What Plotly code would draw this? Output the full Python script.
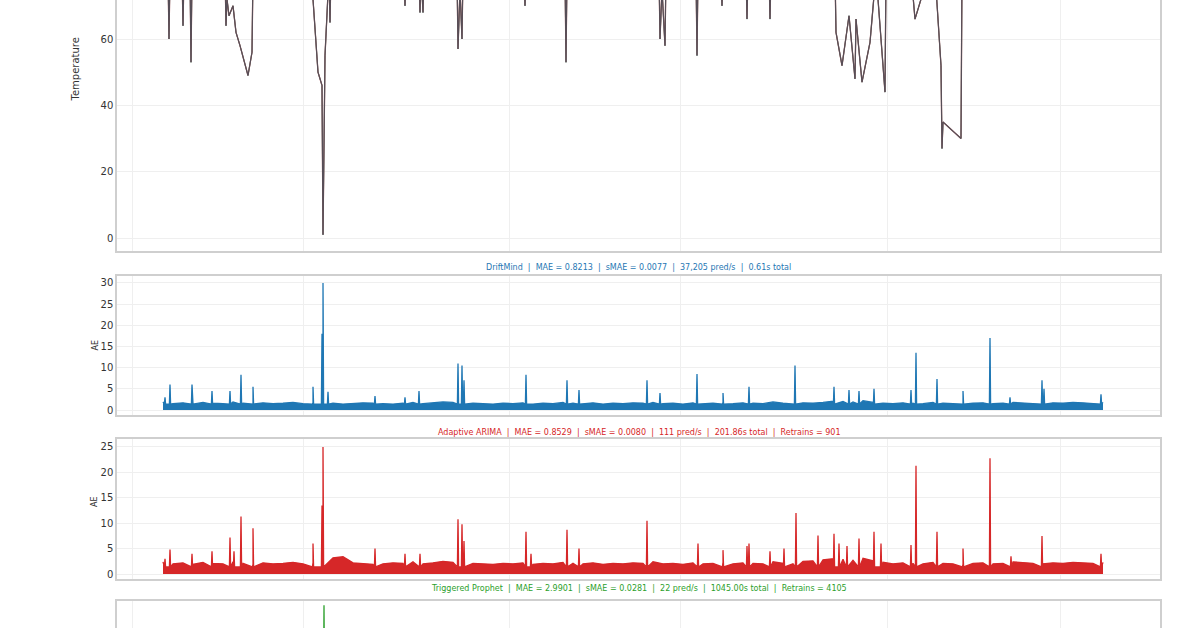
import plotly.graph_objects as go

# ---------------- data ----------------
grid_ticks = [-31, 140, 346, 517, 724, 897]

temp_t = [0, 5, 6, 7, 19, 20, 21, 27, 28, 29, 62, 63, 64, 66, 70, 73, 77, 85, 89, 90,
          149, 150, 155, 159, 160, 162, 166, 167, 168, 241, 242, 243, 256, 257, 258, 260, 261,
          294, 295, 297, 299, 300, 361, 362, 363, 402, 403, 404, 496, 497, 499, 502, 503,
          533, 534, 535, 558, 559, 560, 583, 584, 585, 606, 607, 608, 672, 673, 679, 686, 692,
          693, 699, 707, 713, 715, 722, 723, 748, 752, 758, 759, 772, 778, 779, 780, 798, 799,
          800, 807, 815, 821, 827, 828, 949]
temp_v = [80, 80, 60, 80, 80, 64, 80, 80, 53, 80, 80, 64, 72, 67, 70, 62, 58, 49, 56, 80,
          80, 72, 50, 46, 1, 55, 80, 65, 80, 80, 70, 80, 80, 68, 80, 68, 80,
          80, 57, 75, 60, 80, 80, 70, 80, 80, 53, 80, 80, 60, 75, 58, 80,
          80, 55, 80, 80, 70, 80, 80, 66, 80, 80, 66, 80, 80, 62, 52, 67, 48,
          66, 47, 59, 80, 72, 44, 80, 80, 66, 72, 80, 80, 52, 27, 35, 30, 80,
          80, 75, 80, 80, 80, 80, 80, 80, 80]

env_t = list(range(0, 950, 10))
dm_env = [1.9, 1.5, 1.7, 1.4, 1.8, 1.6, 1.5, 1.9, 1.6, 1.4, 1.7, 1.5, 1.6, 1.8, 1.5, 1.7,
          1.9, 1.6, 1.4, 1.5, 1.7, 1.6, 1.5, 1.4, 1.6, 1.8, 1.5, 1.7, 1.9, 1.8, 2.0, 1.6,
          1.5, 1.4, 1.6, 1.5, 1.7, 1.4, 1.6, 1.5, 1.8, 1.6, 1.5, 1.7, 1.4, 1.6, 1.5, 1.7,
          1.6, 1.8, 1.5, 1.6, 1.4, 1.7, 1.5, 1.6, 1.8, 1.5, 1.7, 1.6, 1.5, 1.9, 1.6, 1.5,
          1.7, 1.6, 1.8, 2.1, 2.0, 1.9, 2.2, 1.8, 1.6, 1.5, 1.7, 1.6, 1.5, 1.8, 1.6, 1.5,
          1.4, 1.6, 1.7, 1.5, 1.6, 1.8, 1.7, 1.6, 1.5, 1.7, 1.6, 1.8, 1.7, 1.6, 1.8]
ar_env = [2.4, 2.0, 2.2, 1.9, 2.3, 2.1, 2.0, 2.4, 2.1, 1.9, 2.2, 2.0, 2.1, 2.3, 2.0, 2.2,
          3.5, 3.2, 3.4, 2.2, 2.0, 1.9, 2.0, 2.2, 2.1, 2.4, 2.0, 2.2, 2.5, 2.3, 2.6, 2.1,
          2.0, 1.9, 2.1, 2.0, 2.2, 1.9, 2.1, 2.0, 2.3, 2.1, 2.0, 2.2, 1.9, 2.1, 2.0, 2.2,
          2.1, 2.4, 2.0, 2.1, 1.9, 2.2, 2.0, 2.1, 2.3, 2.0, 2.2, 2.1, 2.0, 2.4, 2.1, 2.0,
          2.5, 2.6, 2.8, 3.0, 2.9, 2.7, 3.1, 2.6, 2.3, 2.0, 2.2, 2.1, 2.0, 2.3, 2.1, 2.0,
          1.9, 2.1, 2.2, 2.0, 2.1, 2.4, 2.2, 2.1, 2.0, 2.2, 2.1, 2.3, 2.2, 2.1, 2.3]

dm_spike_t = [2, 7, 29, 49, 67, 78, 90, 150, 159, 160, 165, 212, 242, 256, 295, 299, 301,
              363, 404, 416, 484, 497, 534, 560, 586, 632, 671, 686, 696, 711, 748, 753,
              774, 800, 827, 847, 879, 881, 938]
dm_spike_v = [3, 6, 6, 4.5, 4.5, 8.3, 5.5, 5.5, 18, 30, 4.3, 3.3, 3, 4.5, 11, 10.5, 7,
              8.3, 7, 4.7, 7, 4, 8.5, 4, 5.5, 10.5, 5.5, 4.7, 4.5, 5, 4.7, 13.5,
              7.3, 4.5, 17, 3, 7, 5, 3.7]

ar_spike_t = [2, 7, 29, 49, 67, 71, 78, 90, 150, 159, 160, 212, 242, 257, 295, 299, 301,
              363, 368, 404, 416, 484, 535, 560, 584, 586, 607, 621, 633, 655, 671, 676,
              684, 696, 711, 718, 748, 753, 774, 800, 827, 848, 879, 938]
ar_spike_v = [3, 4.8, 4, 4.5, 7.2, 4.5, 11.3, 9, 6, 13.5, 25, 5, 4, 4, 10.8, 9.8, 6.5,
              8.3, 4, 8.7, 5, 10.5, 6, 4.7, 5.5, 6, 4.5, 5, 12, 7.6, 7.9, 6, 5.5, 7,
              8.3, 6, 5.7, 21.3, 8.3, 5, 22.8, 3.5, 7.5, 4]

pr_spike_t = [161]
pr_spike_v = [38]

titles = [
    "DriftMind  |  MAE = 0.8213  |  sMAE = 0.0077  |  37,205 pred/s  |  0.61s total",
    "Adaptive ARIMA  |  MAE = 0.8529  |  sMAE = 0.0080  |  111 pred/s  |  201.86s total  |  Retrains = 901",
    "Triggered Prophet  |  MAE = 2.9901  |  sMAE = 0.0281  |  22 pred/s  |  1045.00s total  |  Retrains = 4105",
]
colors = ["#1f77b4", "#d62728", "#2ca02c"]


def merge(env_x, env_y, sx, sy):
    pts = list(zip(env_x, env_y))
    for t, v in zip(sx, sy):
        pts += [(t - 0.6, 1.4), (t, v), (t + 0.6, 1.4)]
    pts.sort()
    return [p[0] for p in pts], [p[1] for p in pts]


# ---------------- figure ----------------
H = 700
fig = go.Figure()


def py(px):
    return 1 - px / H


def dom(top, bot):
    return [py(bot), min(1.0, py(top))]


def pxx(px):
    return px / 1200


xd = [pxx(117), pxx(1160)]
panels = [dom(0, 251), dom(276, 415), dom(439, 579), dom(601, 690)]
yr = [[-3.9, 60 + 39 / 3.317], [-1.18, 31.65], [-0.98, 26.57], [-1, 40]]
ytick = [[0, 20, 40, 60], [0, 5, 10, 15, 20, 25, 30], [0, 5, 10, 15, 20, 25], [0, 10, 20]]

for c, w in [("#2ca02c", 1.0), ("#1f77b4", 1.0), ("#d62728", 1.3)]:
    fig.add_trace(go.Scatter(x=temp_t, y=temp_v, mode="lines", line=dict(color=c, width=w),
                             opacity=0.6, xaxis="x", yaxis="y", showlegend=False))
fig.add_trace(go.Scatter(x=temp_t, y=temp_v, mode="lines", line=dict(color="#4a4e58", width=1.2),
                         opacity=0.85, xaxis="x", yaxis="y", showlegend=False))

dx, dy = merge(env_t, dm_env, dm_spike_t, dm_spike_v)
fig.add_trace(go.Scatter(x=dx, y=dy, mode="lines", fill="tozeroy", fillcolor=colors[0],
                         line=dict(color=colors[0], width=1.3), xaxis="x2", yaxis="y2", showlegend=False))
ax, ay = merge(env_t, ar_env, ar_spike_t, ar_spike_v)
fig.add_trace(go.Scatter(x=ax, y=ay, mode="lines", fill="tozeroy", fillcolor=colors[1],
                         line=dict(color=colors[1], width=1.3), xaxis="x3", yaxis="y3", showlegend=False))
fig.add_trace(go.Scatter(x=[t - 0.5 for t in pr_spike_t] + pr_spike_t + [t + 0.5 for t in pr_spike_t],
                         y=[0] + pr_spike_v + [0], mode="lines",
                         line=dict(color=colors[2], width=1.3), xaxis="x4", yaxis="y4", showlegend=False))

lay = dict(width=1200, height=H, margin=dict(l=0, r=0, t=0, b=0),
           paper_bgcolor="white", plot_bgcolor="white",
           font=dict(family="DejaVu Sans", size=10, color="#333"))
for i in range(4):
    s = "" if i == 0 else str(i + 1)
    lay["xaxis" + s] = dict(domain=xd, range=[-46, 997], tickvals=grid_ticks, showticklabels=False,
                            showgrid=True, gridcolor="#efefef", gridwidth=1, zeroline=False,
                            showline=True, linecolor="#cfcfcf", linewidth=1.5,
                            mirror=(i != 0), ticks="", anchor="y" + s)
    lay["yaxis" + s] = dict(domain=panels[i], range=yr[i], tickvals=ytick[i],
                            showticklabels=(i != 3),
                            showgrid=True, gridcolor="#efefef", zeroline=False,
                            showline=True, linecolor="#cfcfcf", linewidth=1.5, mirror=True,
                            ticks="", tickfont=dict(size=10, color="#333"), anchor="x" + s)
fig.update_layout(**lay)

ann = [dict(text="Temperature", x=pxx(68), y=py(36), xref="paper", yref="paper",
            textangle=-90, showarrow=False, font=dict(size=10, color="#333"))]
for yp in [345, 509]:
    ann.append(dict(text="AE", x=pxx(88), y=py(yp), xref="paper", yref="paper",
                    textangle=-90, showarrow=False, font=dict(size=8, color="#333")))
for tt, c, yp in zip(titles, colors, [268, 432, 595]):
    ann.append(dict(text=tt, x=(pxx(117) + pxx(1160)) / 2, y=py(yp), xref="paper", yref="paper",
                    showarrow=False, font=dict(size=8, color=c)))
fig.update_layout(annotations=ann)

fig.write_html("out.html", config={"displayModeBar": False},
               post_script="document.body.style.margin='0px';")
